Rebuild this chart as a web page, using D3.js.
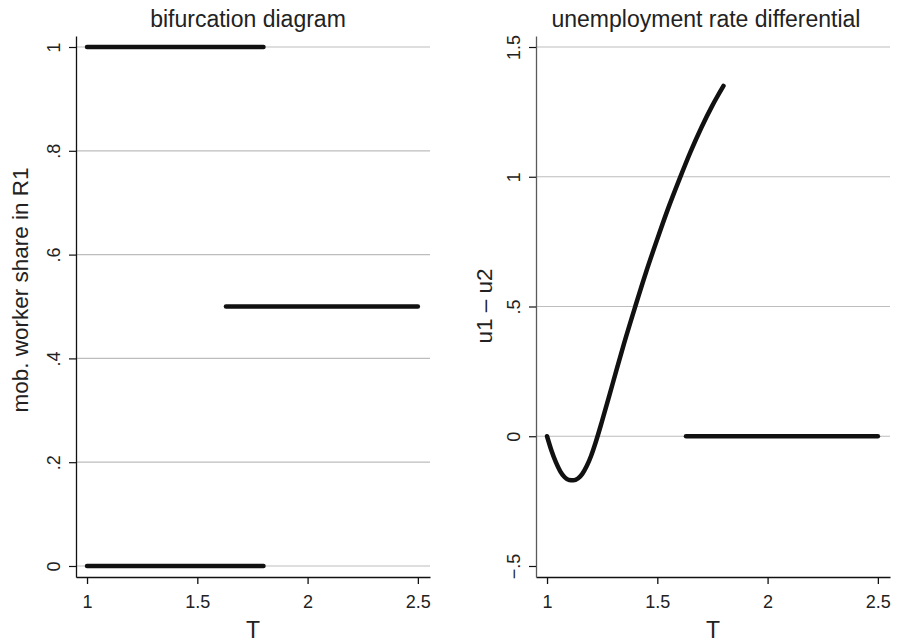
<!DOCTYPE html>
<html><head><meta charset="utf-8">
<script src="https://cdn.jsdelivr.net/npm/d3@7"></script>
<style>
body{margin:0;background:#fff;}
text{font-family:"Liberation Sans",Arial,Helvetica,sans-serif;fill:#222;}
</style></head><body>
<svg id="c" width="897" height="642"></svg>
<script>
// ---- data ----
const xTicks = [1, 1.5, 2, 2.5];
const xTickLabels = ["1", "1.5", "2", "2.5"];
const leftYTicks = [0, 0.2, 0.4, 0.6, 0.8, 1];
const leftYTickLabels = ["0", ".2", ".4", ".6", ".8", "1"];
const rightYTicks = [-0.5, 0, 0.5, 1, 1.5];
const rightYTickLabels = ["\u2212.5", "0", ".5", "1", "1.5"];
const rightGridTicks = [0, 0.5, 1, 1.5];

// bifurcation branches: [T, share]
const upperBranch = [[1, 1], [1.8, 1]];
const lowerBranch = [[1, 0], [1.8, 0]];
const middleBranch = [[1.63, 0.5], [2.5, 0.5]];

// unemployment differential curve: T values and u1-u2 values
const diffT = [1.00,1.02,1.04,1.06,1.08,1.10,1.12,1.14,1.16,1.18,1.20,1.22,1.25,1.30,1.35,1.40,1.45,1.50,1.55,1.60,1.65,1.70,1.75,1.80];
const diffU = [0,-0.055,-0.10,-0.135,-0.158,-0.169,-0.170,-0.163,-0.145,-0.115,-0.075,-0.025,0.06,0.21,0.36,0.50,0.635,0.76,0.88,0.99,1.095,1.19,1.275,1.35];
const symLine = [[1.63, 0], [2.5, 0]];

// ---- drawing ----
const svg = d3.select("#c");
const FONT = '"Liberation Sans",Arial,Helvetica,sans-serif';

function panel(opts){
  const g = svg.append("g");
  const x = d3.scaleLinear().domain([0.95, 2.555]).range([opts.left, opts.right]);
  const y = d3.scaleLinear().domain(opts.yDomain).range([577, 36]);

  // grid
  g.append("g").selectAll("line").data(opts.grid).join("line")
    .attr("x1", opts.left).attr("x2", opts.right)
    .attr("y1", d => y(d)).attr("y2", d => y(d))
    .attr("stroke", "#bdbdbd").attr("stroke-width", 1.2);

  // x axis
  const xa = g.append("g").attr("transform", `translate(0,${y.range()[0]})`)
    .call(d3.axisBottom(x).tickValues(xTicks).tickFormat((d,i)=>xTickLabels[i]).tickSize(7).tickSizeOuter(0).tickPadding(11));
  xa.selectAll("path,line").attr("stroke", "#111").attr("stroke-width", 1.3);
  xa.selectAll("text").style("font-family", FONT).style("font-size", "18px").attr("fill", "#222");

  // y axis
  const ya = g.append("g").attr("transform", `translate(${opts.left},0)`)
    .call(d3.axisLeft(y).tickValues(opts.yTicks).tickFormat((d,i)=>opts.yLabels[i]).tickSize(7).tickSizeOuter(0));
  ya.selectAll("path").attr("stroke", opts.yAxisColor).attr("stroke-width", 1.3);
  ya.selectAll("line").attr("stroke", "#111").attr("stroke-width", 1.2);
  ya.selectAll("text").style("font-family", FONT).style("font-size", "18px").attr("fill", "#222")
    .attr("transform", "rotate(-90)").attr("x", 0).attr("y", -16).attr("dy", 0)
    .style("text-anchor", "middle");

  // titles
  g.append("text").attr("x", opts.titleX).attr("y", 27).attr("text-anchor", "middle")
    .style("font-size", "23px").text(opts.title);
  g.append("text").attr("x", (opts.left + opts.right) / 2).attr("y", 638).attr("text-anchor", "middle")
    .style("font-size", "23px").text("T");
  g.append("text").attr("transform", `translate(${opts.yTitleX},${opts.yTitleY}) rotate(-90)`)
    .attr("text-anchor", "middle").style("font-size", "22.5px").text(opts.yTitle);

  return {g, x, y};
}

const L = panel({left: 76, right: 430, yDomain: [-0.0212, 1.0212], yTicks: leftYTicks, yLabels: leftYTickLabels,
  grid: leftYTicks, yAxisColor: "#111", title: "bifurcation diagram", titleX: 248,
  yTitle: "mob. worker share in R1", yTitleX: 28, yTitleY: 290});
const R = panel({left: 536, right: 890, yDomain: [-0.5424, 1.5424], yTicks: rightYTicks, yLabels: rightYTickLabels,
  grid: rightGridTicks, yAxisColor: "#5a5a5a", title: "unemployment rate differential", titleX: 706,
  yTitle: "u1 \u2013 u2", yTitleX: 492, yTitleY: 306});

function drawLine(p, data, curve){
  const gen = d3.line().x(d => p.x(d[0])).y(d => p.y(d[1]));
  if (curve) gen.curve(curve);
  p.g.append("path").attr("d", gen(data)).attr("fill", "none")
    .attr("stroke", "#111").attr("stroke-width", 4.5).attr("stroke-linecap", "round").attr("stroke-linejoin", "round");
}
drawLine(L, upperBranch);
drawLine(L, lowerBranch);
drawLine(L, middleBranch);
drawLine(R, diffT.map((t,i)=>[t, diffU[i]]), d3.curveMonotoneX);
drawLine(R, symLine);
</script>
</body></html>
